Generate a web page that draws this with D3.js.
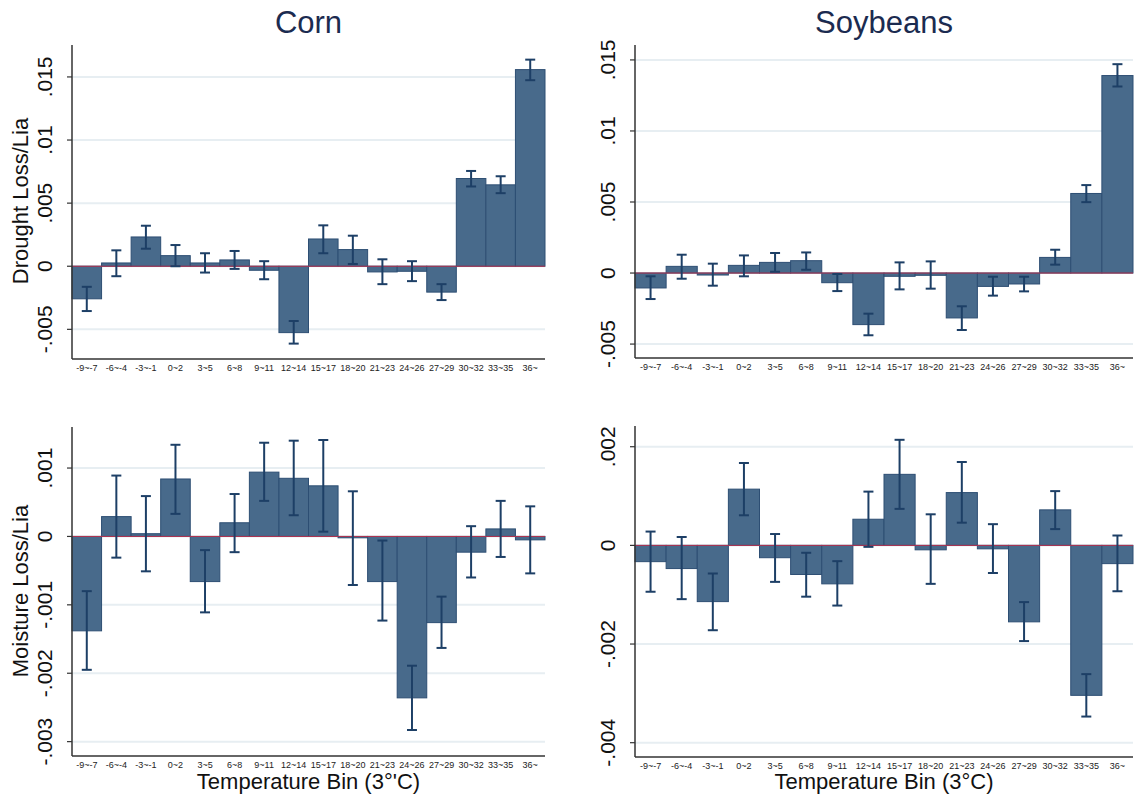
<!DOCTYPE html>
<html>
<head>
<meta charset="utf-8">
<script src="https://cdn.jsdelivr.net/npm/d3@7"></script>
<style>
  body { margin: 0; background: #fff; }
  text { font-family: "Liberation Sans", Arial, Helvetica, sans-serif; }
</style>
</head>
<body>
<div id="chart"></div>
<script>
const bins = ["-9~-7", "-6~-4", "-3~-1", "0~2", "3~5", "6~8", "9~11", "12~14",
  "15~17", "18~20", "21~23", "24~26", "27~29", "30~32", "33~35", "36~"]

// Corn, drought
const cornDrought = [-0.00258, 0.00026, 0.00232, 0.00084, 0.00026, 0.0005, -0.00032, -0.00526,
  0.00216, 0.00132, -0.00045, -0.0004, -0.00205, 0.00695, 0.00645, 0.01558]
const cornDroughtLo = [-0.00355, -0.00079, 0.00139, 0.0, -0.0005, -0.00021, -0.00103, -0.00613,
  0.00103, 0.00018, -0.00142, -0.00118, -0.00268, 0.00632, 0.00579, 0.01474]
const cornDroughtHi = [-0.00163, 0.00126, 0.00321, 0.00168, 0.00103, 0.00121, 0.0004, -0.00434,
  0.00324, 0.00242, 0.00055, 0.0004, -0.00142, 0.00755, 0.00713, 0.01637]

// Soybeans, drought
const soyDrought = [-0.00105, 0.00047, -0.00014, 0.00054, 0.00075, 0.00087, -0.00068, -0.00363,
  -0.00023, -0.00016, -0.00316, -0.00094, -0.00077, 0.0011, 0.0056, 0.0139]
const soyDroughtLo = [-0.00183, -0.0004, -0.00089, -0.00023, 0.00009, 0.00023, -0.00127, -0.00438,
  -0.00115, -0.0011, -0.00401, -0.00159, -0.00129, 0.00059, 0.00499, 0.01313]
const soyDroughtHi = [-0.00023, 0.00129, 0.00066, 0.00124, 0.00141, 0.00145, -0.00007, -0.00286,
  0.00075, 0.00082, -0.00234, -0.00026, -0.00026, 0.00164, 0.00619, 0.0147]

// Corn, moisture
const cornMoist = [-0.00138, 0.00029, 0.00004, 0.00084, -0.00066, 0.0002, 0.00094, 0.00085,
  0.00074, -0.00002, -0.00066, -0.00236, -0.00126, -0.00023, 0.00011, -0.00005]
const cornMoistLo = [-0.00195, -0.00031, -0.00051, 0.00033, -0.00111, -0.00023, 0.00052, 0.00031,
  0.00007, -0.00071, -0.00123, -0.00283, -0.00163, -0.0006, -0.0003, -0.00054]
const cornMoistHi = [-0.0008, 0.00089, 0.00059, 0.00134, -0.0002, 0.00062, 0.00137, 0.0014,
  0.00141, 0.00066, -0.00006, -0.00189, -0.00088, 0.00015, 0.00052, 0.00044]

// Soybeans, moisture
const soyMoist = [-0.00033, -0.00047, -0.00114, 0.00114, -0.00025, -0.00059, -0.00078, 0.00053,
  0.00144, -0.00009, 0.00107, -0.00007, -0.00155, 0.00072, -0.00304, -0.00037]
const soyMoistLo = [-0.00094, -0.00109, -0.00172, 0.00061, -0.00074, -0.00104, -0.00122, -0.00003,
  0.00074, -0.00078, 0.00046, -0.00056, -0.00194, 0.00033, -0.00347, -0.00093]
const soyMoistHi = [0.00028, 0.00017, -0.00057, 0.00167, 0.00023, -0.00015, -0.00032, 0.00109,
  0.00214, 0.00063, 0.00169, 0.00043, -0.00115, 0.0011, -0.00261, 0.0002]

const droughtTicks = [-0.005, 0, 0.005, 0.01, 0.015]
const cornMoistTicks = [-0.003, -0.002, -0.001, 0, 0.001]
const soyMoistTicks = [-0.004, -0.002, 0, 0.002]

const svg = d3.select("#chart").append("svg")
  .attr("width", 1136)
  .attr("height", 800)

const fmt = v => v === 0 ? "0" : String(+v.toFixed(4)).replace(/^(-?)0\./, "$1.")

const panels = [
  { x0: 72, x1: 545, y0: 45, y1: 359, dom: [-0.00735, 0.01753], ticks: droughtTicks,
    v: cornDrought, lo: cornDroughtLo, hi: cornDroughtHi, title: "Corn",
    ylab: "Drought Loss/Lia" },
  { x0: 635, x1: 1133, y0: 45, y1: 358, dom: [-0.00598, 0.01605], ticks: droughtTicks,
    v: soyDrought, lo: soyDroughtLo, hi: soyDroughtHi, title: "Soybeans" },
  { x0: 72, x1: 545, y0: 427, y1: 756, dom: [-0.00321, 0.0016], ticks: cornMoistTicks,
    v: cornMoist, lo: cornMoistLo, hi: cornMoistHi, ylab: "Moisture Loss/Lia",
    xlab: "Temperature Bin (3°'C)" },
  { x0: 635, x1: 1133, y0: 426, y1: 757, dom: [-0.00429, 0.00242], ticks: soyMoistTicks,
    v: soyMoist, lo: soyMoistLo, hi: soyMoistHi, xlab: "Temperature Bin (3°C)" }
]

panels.forEach(p => {
  const g = svg.append("g")
  const x = d3.scaleBand().domain(bins).range([p.x0, p.x1]).padding(0)
  const y = d3.scaleLinear().domain(p.dom).range([p.y1, p.y0])
  const rows = bins.map((b, i) => ({ bin: b, v: p.v[i], lo: p.lo[i], hi: p.hi[i] }))

  // gridlines
  g.selectAll(".grid").data(p.ticks).enter().append("line")
    .attr("x1", p.x0).attr("x2", p.x1)
    .attr("y1", d => y(d)).attr("y2", d => y(d))
    .style("stroke", "#e7eef2").style("stroke-width", 2)

  // bars
  g.selectAll(".bar").data(rows).enter().append("rect")
    .attr("x", d => x(d.bin))
    .attr("width", x.bandwidth())
    .attr("y", d => y(Math.max(0, d.v)))
    .attr("height", d => Math.abs(y(d.v) - y(0)))
    .style("fill", "#486a8b")
    .style("stroke", "#2d4e73")
    .style("stroke-width", 1)

  // zero line
  g.append("line")
    .attr("x1", p.x0).attr("x2", p.x1)
    .attr("y1", y(0)).attr("y2", y(0))
    .style("stroke", "#b3324f").style("stroke-width", 1)

  // error bars
  const cap = 5
  const eb = g.selectAll(".eb").data(rows).enter().append("g")
    .style("stroke", "#1d3f66").style("stroke-width", 2)
  eb.append("line")
    .attr("x1", d => x(d.bin) + x.bandwidth() / 2).attr("x2", d => x(d.bin) + x.bandwidth() / 2)
    .attr("y1", d => y(d.lo)).attr("y2", d => y(d.hi))
  eb.append("line")
    .attr("x1", d => x(d.bin) + x.bandwidth() / 2 - cap).attr("x2", d => x(d.bin) + x.bandwidth() / 2 + cap)
    .attr("y1", d => y(d.lo)).attr("y2", d => y(d.lo))
  eb.append("line")
    .attr("x1", d => x(d.bin) + x.bandwidth() / 2 - cap).attr("x2", d => x(d.bin) + x.bandwidth() / 2 + cap)
    .attr("y1", d => y(d.hi)).attr("y2", d => y(d.hi))

  // axes
  g.append("line")
    .attr("x1", p.x0).attr("x2", p.x0).attr("y1", p.y0).attr("y2", p.y1)
    .style("stroke", "#333").style("stroke-width", 1.5)
  g.append("line")
    .attr("x1", p.x0).attr("x2", p.x1).attr("y1", p.y1).attr("y2", p.y1)
    .style("stroke", "#333").style("stroke-width", 1.5)

  g.selectAll(".tk").data(p.ticks).enter().append("line")
    .attr("x1", p.x0 - 5).attr("x2", p.x0)
    .attr("y1", d => y(d)).attr("y2", d => y(d))
    .style("stroke", "#333").style("stroke-width", 1.2)

  g.selectAll(".tl").data(p.ticks).enter().append("text")
    .attr("transform", d => `translate(${p.x0 - 20},${y(d)}) rotate(-90)`)
    .attr("text-anchor", "middle")
    .style("font-size", "21px")
    .style("fill", "#111")
    .text(fmt)

  g.selectAll(".xl").data(bins).enter().append("text")
    .attr("x", d => x(d) + x.bandwidth() / 2)
    .attr("y", p.y1 + 11.5)
    .attr("text-anchor", "middle")
    .style("font-size", "9px")
    .style("fill", "#222")
    .text(d => d)

  if (p.title) {
    g.append("text")
      .attr("x", (p.x0 + p.x1) / 2)
      .attr("y", 33)
      .attr("text-anchor", "middle")
      .style("font-size", "31px")
      .style("fill", "#1b2b50")
      .text(p.title)
  }
  if (p.ylab) {
    g.append("text")
      .attr("transform", `translate(28,${p.title ? 201 : 591}) rotate(-90)`)
      .attr("text-anchor", "middle")
      .style("font-size", "22px")
      .style("fill", "#111")
      .text(p.ylab)
  }
  if (p.xlab) {
    g.append("text")
      .attr("x", (p.x0 + p.x1) / 2)
      .attr("y", 789)
      .attr("text-anchor", "middle")
      .style("font-size", "22px")
      .style("fill", "#111")
      .text(p.xlab)
  }
})
</script>
</body>
</html>
